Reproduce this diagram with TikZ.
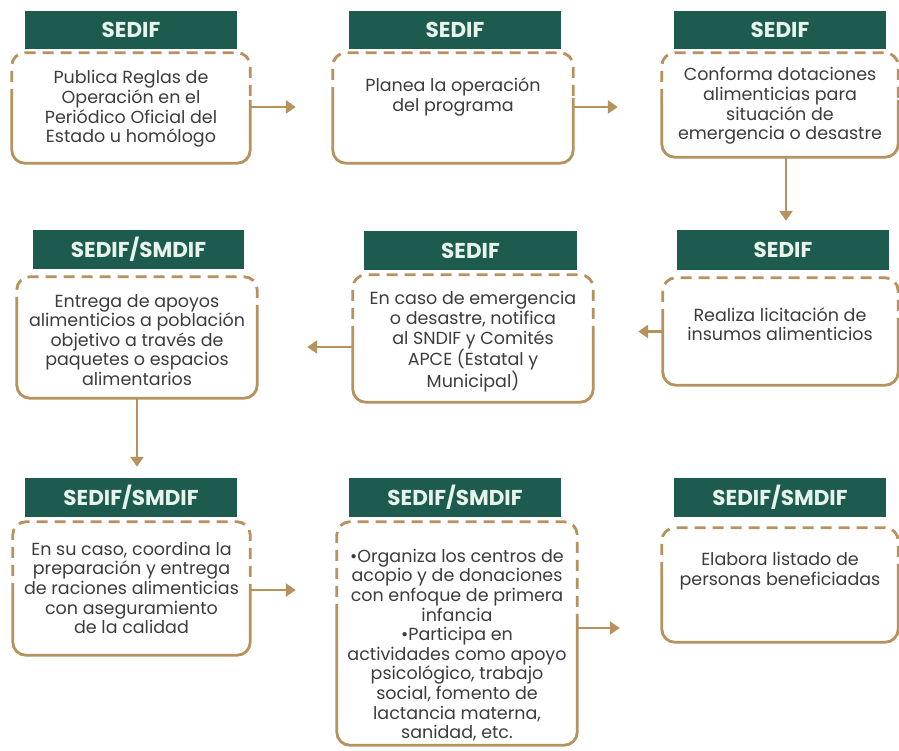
\documentclass[tikz,border=0pt]{standalone}
\usepackage{fontspec}
\setmainfont{Poppins}
\usetikzlibrary{arrows.meta,calc}
\definecolor{hdrgreen}{HTML}{1E5B4F}
\definecolor{hdrtext}{HTML}{E6F4EC}
\definecolor{gold}{HTML}{B5925E}
\definecolor{bodytext}{HTML}{3C3C3C}
\tikzset{
  hdr/.style={fill=hdrgreen, text=hdrtext, inner sep=0pt, font=\fontsize{21.5}{24}\selectfont\bfseries},
  bodybox/.style={inner sep=0pt, draw=none},
  btext/.style={text=bodytext, align=center, inner sep=0pt, font=\fontsize{17.5}{19.6}\selectfont},
  dashborder/.style={draw=gold, line width=2.8pt, dash pattern=on 11pt off 7pt, rounded corners=13pt},
  solidborder/.style={draw=gold, line width=2.8pt, rounded corners=13pt},
  arr/.style={draw=gold, line width=2.8pt, -{Triangle[length=10pt,width=13pt]}}
}
\newcommand{\boxborder}[2]{%
  \draw[dashborder] ([yshift=-#2pt]#1.north west) -- (#1.north west) -- (#1.north east) -- ([yshift=-#2pt]#1.north east);
  \draw[solidborder] ([yshift=-#2pt]#1.north west) -- (#1.south west) -- (#1.south east) -- ([yshift=-#2pt]#1.north east);
}
\begin{document}
\begin{tikzpicture}[x=1pt,y=-1pt]
\useasboundingbox[fill=white] (0,0) rectangle (899,751);

% body boxes
\node[bodybox, minimum width=238pt, minimum height=110pt] (b1) at (131,108) {};
\node[bodybox, minimum width=240pt, minimum height=110pt] (b2) at (453,108) {};
\node[bodybox, minimum width=236pt, minimum height=104pt] (b3) at (780,105) {};
\node[bodybox, minimum width=240pt, minimum height=121pt] (b4) at (137,337.5) {};
\node[bodybox, minimum width=240pt, minimum height=127pt] (b5) at (473,338.5) {};
\node[bodybox, minimum width=235pt, minimum height=107pt] (b6) at (780.5,331.5) {};
\node[bodybox, minimum width=237pt, minimum height=133pt] (b7) at (131.5,588.5) {};
\node[bodybox, minimum width=240pt, minimum height=223pt] (b8) at (457,633.5) {};
\node[bodybox, minimum width=236pt, minimum height=114pt] (b9) at (780,585) {};

\boxborder{b1}{47}
\boxborder{b2}{45}
\boxborder{b3}{47}
\boxborder{b4}{31}
\boxborder{b5}{62}
\boxborder{b6}{42}
\boxborder{b7}{72}
\boxborder{b8}{93}
\boxborder{b9}{45}

% headers
\node[hdr, minimum width=212pt, minimum height=38pt] (h1) at (131,30) {SEDIF};
\node[hdr, minimum width=212pt, minimum height=38pt] (h2) at (455,30) {SEDIF};
\node[hdr, minimum width=212pt, minimum height=38pt] (h3) at (780,30) {SEDIF};
\node[hdr, minimum width=211pt, minimum height=39pt] (h4) at (138.5,249.5) {SEDIF/SMDIF};
\node[hdr, minimum width=213pt, minimum height=39pt] (h5) at (470.5,250.5) {SEDIF};
\node[hdr, minimum width=212pt, minimum height=40pt] (h6) at (783,250) {SEDIF};
\node[hdr, minimum width=212pt, minimum height=39pt] (h7) at (131,497.5) {SEDIF/SMDIF};
\node[hdr, minimum width=212pt, minimum height=39pt] (h8) at (455,497.5) {SEDIF/SMDIF};
\node[hdr, minimum width=212pt, minimum height=39pt] (h9) at (780,497.5) {SEDIF/SMDIF};

% texts
\node[btext] (t1) at (131,109) {Publica Reglas de\\Operación en el\\Periódico Oficial del\\Estado u homólogo};
\node[btext] (t2) at (453,97) {Planea la operación\\del programa};
\node[btext] (t3) at (780,106) {Conforma dotaciones\\alimenticias para\\situación de\\emergencia o desastre};
\node[btext] (t4) at (137,340) {Entrega de apoyos\\alimenticios a población\\objetivo a través de\\paquetes o espacios\\alimentarios};
\node[btext] (t5) at (473,342) {En caso de emergencia\\o desastre, notifica\\al SNDIF y Comités\\APCE (Estatal y\\Municipal)};
\node[btext] (t6) at (780,324) {Realiza licitación de\\insumos alimenticios};
\node[btext] (t7) at (131.5,588) {En su caso, coordina la\\preparación y entrega\\de raciones alimenticias\\con aseguramiento\\de la calidad};
\node[btext] (t8) at (457,645) {•Organiza los centros de\\acopio y de donaciones\\con enfoque de primera\\infancia\\•Participa en\\actividades como apoyo\\psicológico, trabajo\\social, fomento de\\lactancia materna,\\sanidad, etc.};
\node[btext] (t9) at (780,571) {Elabora listado de\\personas beneficiadas};

% connectors
\draw[arr, shorten >=37pt] (b1.east |- 0,107) -- (b2.west |- 0,107);
\draw[arr, shorten >=44pt] (b2.east |- 0,107) -- (b3.west |- 0,107);
\draw[arr, shorten >=9pt] ([xshift=6pt]b3.south) -- ([xshift=3pt]h6.north);
\draw[arr, shorten >=45pt] (b6.west) -- (b6.west -| b5.east);
\draw[arr, shorten >=50pt] (b5.west |- 0,347) -- (b4.east |- 0,347);
\draw[arr, shorten >=11pt] (b4.south) -- (b4.south |- h7.north);
\draw[arr, shorten >=41pt] (b7.east |- 0,590) -- (b8.west |- 0,590);
\draw[arr, shorten >=42pt] (b8.east |- 0,628) -- (b9.west |- 0,628);
\end{tikzpicture}
\end{document}
